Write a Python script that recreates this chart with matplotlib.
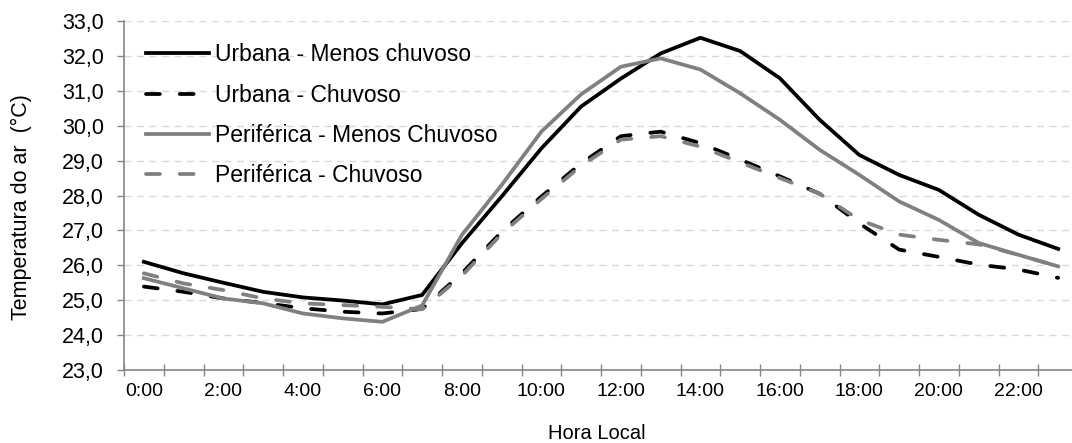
import matplotlib
matplotlib.use("Agg")
import matplotlib.pyplot as plt
from matplotlib.ticker import FuncFormatter, FixedLocator

plt.rcParams['font.family'] = ['Liberation Sans', 'DejaVu Sans']

horas = [f"{h}:00" for h in range(24)]

urbana_seco = [26.10, 25.77, 25.50, 25.24, 25.08, 24.99, 24.88, 25.15, 26.63, 27.97,
               29.35, 30.55, 31.35, 32.07, 32.52, 32.14, 31.36, 30.17, 29.16, 28.59,
               28.16, 27.45, 26.88, 26.47]
urbana_chuvoso = [25.39, 25.24, 25.05, 24.92, 24.77, 24.67, 24.62, 24.75, 25.77, 26.96,
                  27.97, 28.92, 29.70, 29.83, 29.50, 29.03, 28.55, 28.05, 27.20, 26.45,
                  26.24, 26.02, 25.88, 25.64]
perif_seco = [25.63, 25.34, 25.05, 24.91, 24.62, 24.48, 24.38, 24.85, 26.87, 28.30,
              29.83, 30.90, 31.69, 31.93, 31.61, 30.93, 30.17, 29.31, 28.59, 27.83,
              27.30, 26.64, 26.30, 25.97]
perif_chuvoso = [25.77, 25.48, 25.29, 25.05, 24.91, 24.86, 24.81, 24.74, 25.70, 26.90,
                 27.90, 28.85, 29.60, 29.70, 29.40, 28.95, 28.50, 28.05, 27.30, 26.88,
                 26.73, 26.60, 26.30, 25.97]

series = [
    ("Urbana - Menos chuvoso", urbana_seco, "black", "-"),
    ("Urbana - Chuvoso", urbana_chuvoso, "black", "--"),
    ("Periférica - Menos Chuvoso", perif_seco, "#808080", "-"),
    ("Periférica - Chuvoso", perif_chuvoso, "#808080", "--"),
]

fig = plt.figure(figsize=(10.72, 4.43), dpi=100)
# plot area runs a little past the right edge of the figure
ax = fig.add_axes([124 / 1072, 73 / 443, 954 / 1072, 349 / 443])

x = list(range(len(horas)))
for nome, vals, cor, estilo in series:
    kw = dict(color=cor, lw=2.7, label=nome, solid_joinstyle="round")
    if estilo == "--":
        kw.update(dashes=(3.7, 5.3), dash_capstyle="round")
    ax.plot(x, vals, **kw)

ax.set_xlim(-0.5, 23.5)
ax.set_ylim(23, 33)
ax.set_yticks(range(23, 34))
ax.yaxis.set_major_formatter(FuncFormatter(lambda v, p: f"{v:.1f}".replace(".", ",")))

ax.xaxis.set_major_locator(FixedLocator([i - 0.5 for i in range(25)]))
ax.set_xticklabels([])
ax.set_xticks(x[::2], minor=True)
ax.set_xticklabels(horas[::2], minor=True)
ax.tick_params(axis="x", which="minor", length=0, pad=9, labelsize=14)
ax.tick_params(axis="x", which="major", direction="inout", length=9, width=1, color="#868686")
ax.tick_params(axis="y", direction="out", length=5, width=1, color="#868686", pad=9.5, labelsize=15.5)

ax.grid(axis="y", color="#d9d9d9", linestyle=(0, (5, 4)), lw=1)
ax.set_axisbelow(True)
for s in ("top", "right"):
    ax.spines[s].set_visible(False)
for s in ("left", "bottom"):
    ax.spines[s].set_color("#868686")
    ax.spines[s].set_linewidth(1.2)

ax.set_ylabel("Temperatura do ar  (°C)", fontsize=15.5)
ax.yaxis.set_label_coords(-0.0964, 0.467)
ax.set_xlabel("Hora Local", fontsize=14.5)
ax.xaxis.set_label_coords(0.496, -0.156)

ax.legend(loc="upper left", bbox_to_anchor=(0.0136, 0.962), frameon=False, fontsize=16.5,
          handlelength=2.75, handletextpad=0.26, labelspacing=0.75, borderaxespad=0)

fig.savefig("out.png", dpi=100)
